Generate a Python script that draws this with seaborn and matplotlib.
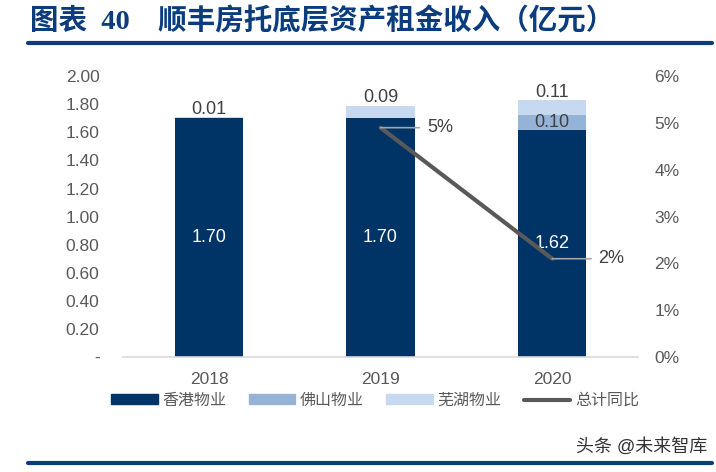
import matplotlib
matplotlib.use('Agg')
import matplotlib.pyplot as plt
import seaborn as sns
import pandas as pd
from matplotlib.lines import Line2D
from matplotlib.patches import Patch

sns.set_style('white')
plt.rcParams['font.family'] = ['Liberation Sans', 'Noto Sans CJK SC', 'DejaVu Sans']

years = ['2018', '2019', '2020']
hk = [1.70, 1.70, 1.62]        # 香港物业
foshan = [0.0, 0.0, 0.10]      # 佛山物业
wuhu = [0.01, 0.09, 0.11]      # 芜湖物业
yoy_years = ['2019', '2020']
yoy = [0.049, 0.021]           # 总计同比

C_HK = '#003366'
C_FS = '#95B3D7'
C_WH = '#C6D9F1'
C_LINE = '#595959'
C_TXT = '#595959'
C_TITLE = '#0B3C7D'

fig = plt.figure(figsize=(7.16, 4.72), dpi=100)
ax = fig.add_axes([0.172, 0.2436, 0.719, 0.595])

df = pd.DataFrame({'year': years, 'hk': hk, 'fs': foshan, 'wh': wuhu})
df['b2'] = df['hk'] + df['fs']
df['top'] = df['b2'] + df['wh']

sns.barplot(data=df, x='year', y='hk', color=C_HK, width=0.4, ax=ax,
            saturation=1, linewidth=0)
sns.barplot(data=df, x='year', y='fs', bottom=df['hk'], color=C_FS, width=0.4,
            ax=ax, saturation=1, linewidth=0)
sns.barplot(data=df, x='year', y='wh', bottom=df['b2'], color=C_WH, width=0.4,
            ax=ax, saturation=1, linewidth=0)

ax.set_ylim(0, 2.0)
ax.set_xlim(-0.5, 2.5)
ax.set_yticks([i * 0.2 for i in range(11)])
ax.set_yticklabels(['-'] + [f'{i * 0.2:.2f}' for i in range(1, 11)])
ax.tick_params(axis='y', length=0, pad=17, labelsize=12.5, labelcolor=C_TXT)
ax.tick_params(axis='x', length=0, pad=11, labelsize=12.5, labelcolor=C_TXT)
ax.set_xlabel('')
ax.set_ylabel('')
for s in ['top', 'right', 'left']:
    ax.spines[s].set_visible(False)
ax.spines['bottom'].set_color('#D9D9D9')
ax.spines['bottom'].set_linewidth(1.2)

# data labels
for i, r in df.iterrows():
    ax.text(i, r['hk'] / 2, f"{r['hk']:.2f}", ha='center', va='center',
            color='white', fontsize=13)
    if r['fs'] > 0:
        ax.text(i, r['hk'] + r['fs'] / 2, f"{r['fs']:.2f}", ha='center',
                va='center', color='#404040', fontsize=13)
    ax.text(i, r['top'] + 0.055, f"{r['wh']:.2f}", ha='center', va='center',
            color='#404040', fontsize=13)

ax2 = ax.twinx()
xpos = [years.index(y) for y in yoy_years]
sns.lineplot(x=xpos, y=yoy, ax=ax2, color=C_LINE, linewidth=3, legend=False)
ax2.set_ylim(0, 0.06)
ax2.set_yticks([i / 100 for i in range(7)])
ax2.set_yticklabels([f'{i}%' for i in range(7)])
ax2.tick_params(axis='y', length=0, pad=12, labelsize=12.5, labelcolor=C_TXT)
ax2.set_ylabel('')
for s in ['top', 'right', 'left', 'bottom']:
    ax2.spines[s].set_visible(False)
ax.set_xlim(-0.5, 2.5)

for x, v in zip(xpos, yoy):
    ax2.annotate(f'{v * 100:.0f}%', xy=(x, v), xytext=(x + 0.27, v),
                 ha='left', va='center', fontsize=13, color='#404040',
                 arrowprops=dict(arrowstyle='-', color='#A6A6A6', lw=1.2,
                                 shrinkA=3, shrinkB=0))

handles = [Patch(color=C_HK), Patch(color=C_FS), Patch(color=C_WH),
           Line2D([], [], color=C_LINE, lw=3, solid_capstyle='round')]
labels = ['香港物业', '佛山物业', '芜湖物业', '总计同比']
fig.legend(handles, labels, loc='center', bbox_to_anchor=(0.524, 0.152), ncol=4,
           frameon=False, fontsize=11.5, labelcolor=C_TXT, handlelength=2.9,
           handleheight=0.56, handletextpad=0.3, columnspacing=1.4,
           borderpad=0)

# title and frame lines
fig.text(0.042, 0.955, '图表  40    顺丰房托底层资产租金收入（亿元）', fontsize=20.5,
         fontweight='bold', color=C_TITLE, va='center', ha='left',
         family=['Liberation Serif', 'Noto Sans CJK SC'])
fig.add_artist(Line2D([0.039, 0.994], [0.909, 0.909], color=C_TITLE, lw=3))
fig.add_artist(Line2D([0.039, 0.994], [0.019, 0.019], color=C_TITLE, lw=3))
fig.text(0.988, 0.053, '头条 @未来智库', fontsize=13, color='#333333',
         ha='right', va='center')

fig.savefig('out.png', dpi=100)
